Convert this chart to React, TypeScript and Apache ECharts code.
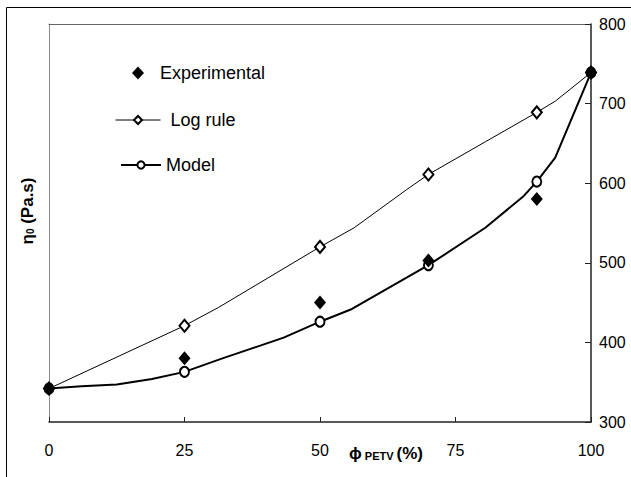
import { useEffect, useRef } from 'react';
import * as echarts from 'echarts';

const phi = [0, 25, 50, 70, 90, 100];
const experimental = [342, 380, 450, 503, 580, 739];
const logRuleMarkers = [342, 421, 520, 611, 689, 739];
const modelMarkers = [342, 363, 426, 497, 602, 739];
// extra points (phi, value)
const logRuleCurvePhi = [31.3, 56.3, 66, 80.5, 93.4];
const logRuleCurveVal = [444, 544, 592, 652, 703];
const modelCurvePhi = [6, 12.5, 19, 31.6, 43.3, 55.9, 80.5, 87.6, 93.4];
const modelCurveVal = [345, 347, 354, 379, 406, 442, 544, 584, 632];
const xTicks = [0, 25, 50, 75, 100];
const yTicks = [300, 400, 500, 600, 700, 800];

const FONT = '"Liberation Sans", Arial, sans-serif';

function buildLine(mx: number[], my: number[], cx: number[], cy: number[]) {
  const pts: any[] = [];
  mx.forEach((x, i) => pts.push({ value: [x, my[i]] }));
  cx.forEach((x, i) => pts.push({ value: [x, cy[i]], symbol: 'none' }));
  pts.sort((a, b) => a.value[0] - b.value[0]);
  return pts;
}

export default function App() {
  const ref = useRef<HTMLDivElement>(null);
  useEffect(() => {
    if (!ref.current) return;
    const chart = echarts.init(ref.current, null, { renderer: 'svg' });
    const option: any = {
      animation: false,
      backgroundColor: '#fff',
      grid: {
        left: 49,
        right: 40,
        top: 24,
        bottom: 55,
        show: false,
      },
      xAxis: [
        {
          type: 'value',
          min: xTicks[0],
          max: xTicks[xTicks.length - 1],
          interval: xTicks[1] - xTicks[0],
          axisLine: { show: true, onZero: false, lineStyle: { color: '#222', width: 1.5 } },
          axisTick: { show: true, inside: true, length: 5, lineStyle: { color: '#222' } },
          axisLabel: { color: '#000', fontSize: 16, fontFamily: FONT, margin: 20 },
          splitLine: { show: false },
        },
        {
          type: 'value',
          position: 'top',
          min: xTicks[0],
          max: xTicks[xTicks.length - 1],
          axisLine: { show: true, onZero: false, lineStyle: { color: '#666', width: 1 } },
          axisTick: { show: false },
          axisLabel: { show: false },
          splitLine: { show: false },
        },
      ],
      yAxis: [
        {
          type: 'value',
          position: 'right',
          min: yTicks[0],
          max: yTicks[yTicks.length - 1],
          interval: yTicks[1] - yTicks[0],
          axisLine: { show: true, onZero: false, lineStyle: { color: '#222', width: 1.5 } },
          axisTick: { show: true, inside: true, length: 6, lineStyle: { color: '#222' } },
          axisLabel: { color: '#000', fontSize: 16, fontFamily: FONT, margin: 8 },
          splitLine: { show: false },
        },
        {
          type: 'value',
          position: 'left',
          min: yTicks[0],
          max: yTicks[yTicks.length - 1],
          axisLine: { show: true, onZero: false, lineStyle: { color: '#888', width: 1 } },
          axisTick: { show: false },
          axisLabel: { show: false },
          splitLine: { show: false },
        },
      ],
      legend: [
        {
          data: ['Experimental'],
          left: 127,
          top: 59,
          itemWidth: 12,
          itemHeight: 13,
          textStyle: { fontSize: 18, fontFamily: FONT, color: '#000', padding: [0, 0, 0, 11] },
        },
        {
          data: ['Log rule'],
          left: 110,
          top: 106,
          itemWidth: 45,
          itemHeight: 10,
          lineStyle: { width: 1 },
          textStyle: { fontSize: 18, fontFamily: FONT, color: '#000', padding: [0, 0, 0, 5] },
        },
        {
          data: ['Model'],
          left: 115,
          top: 151,
          itemWidth: 40,
          itemHeight: 9,
          lineStyle: { width: 2 },
          textStyle: { fontSize: 18, fontFamily: FONT, color: '#000', padding: [0, 0, 0, 0] },
        },
      ],
      series: [
        {
          name: 'Log rule',
          type: 'line',
          data: buildLine(phi, logRuleMarkers, logRuleCurvePhi, logRuleCurveVal),
          symbol: 'emptyDiamond',
          symbolSize: [10, 12],
          lineStyle: { color: '#000', width: 1 },
          itemStyle: { color: '#000', borderWidth: 1 },
          z: 2,
        },
        {
          name: 'Model',
          type: 'line',
          data: buildLine(phi, modelMarkers, modelCurvePhi, modelCurveVal),
          symbol: 'emptyCircle',
          symbolSize: [9, 10],
          lineStyle: { color: '#000', width: 2 },
          itemStyle: { color: '#000', borderWidth: 1.2 },
          z: 3,
        },
        {
          name: 'Experimental',
          type: 'scatter',
          data: phi.map((x, i) => [x, experimental[i]]),
          symbol: 'diamond',
          symbolSize: [12, 14],
          itemStyle: { color: '#000', opacity: 1 },
          z: 4,
        },
      ],
      graphic: [
        {
          type: 'rect',
          shape: { x: 6.5, y: 7.5, width: 700, height: 600 },
          style: { fill: 'none', stroke: '#000', lineWidth: 1 },
          silent: true,
          z: -10,
        },
        {
          type: 'text',
          x: 27,
          y: 211,
          rotation: Math.PI / 2,
          style: {
            text: '{a|η}{s|0}{a| (Pa.s)}',
            align: 'center',
            verticalAlign: 'middle',
            rich: {
              a: { fontSize: 17, fontWeight: 'bold', fontFamily: FONT, fill: '#000' },
              s: { fontSize: 10, fontWeight: 'bold', fontFamily: FONT, fill: '#000', padding: [6, 0, 0, 0] },
            },
          },
        },
        {
          type: 'text',
          x: 349,
          y: 453,
          style: {
            text: '{p|ϕ}{s| PETV }{a|(%)}',
            align: 'left',
            verticalAlign: 'middle',
            rich: {
              p: { fontSize: 17, fontWeight: 'bold', fontFamily: FONT, fill: '#000' },
              s: { fontSize: 11, fontWeight: 'bold', fontFamily: FONT, fill: '#000', padding: [5, 0, 0, 0] },
              a: { fontSize: 17, fontWeight: 'bold', fontFamily: FONT, fill: '#000' },
            },
          },
        },
      ],
    };
    chart.setOption(option);
    return () => chart.dispose();
  }, []);
  return <div ref={ref} style={{ width: 631, height: 477, position: 'absolute', left: 0, top: 0 }} />;
}
